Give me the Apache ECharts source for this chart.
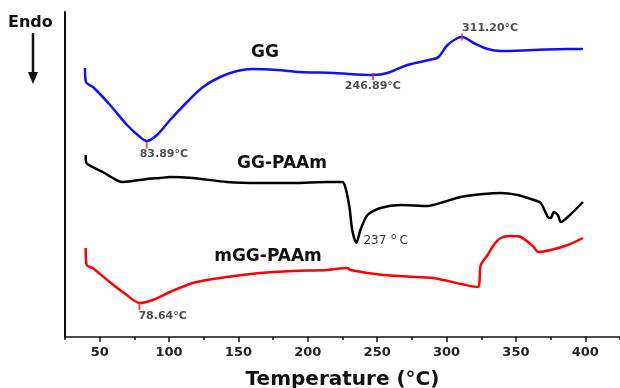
<!DOCTYPE html>
<html>
<head>
<meta charset="utf-8">
<title>DSC</title>
<script src="https://cdn.jsdelivr.net/npm/echarts@6/dist/echarts.min.js"></script>
<style>
  html, body { margin: 0; padding: 0; background: #fff; }
  #chart { width: 620px; height: 388px; }
</style>
</head>
<body>
<div id="chart"></div>
<script>
// GG curve (temperature in °C, heat flow in arbitrary units, endo down)
const ggTemp = [39.4, 40.1, 45.2, 57.5, 69.7, 79.1, 83.9, 91.3, 100.7, 113, 124.5, 136.8, 149, 160.6, 177.9, 194.5, 218.4, 246.9, 257.4, 271.8, 290.6, 294.2, 300.7, 308, 311.2, 319.5, 329.6, 339, 362.9, 387.4, 398.3];
const ggHeat = [269, 255, 250, 232, 212, 200, 196, 202, 217, 235, 250, 260, 266, 268, 267, 265, 264, 262, 264, 272, 278, 280, 292, 299, 300, 294, 288, 286, 287, 288, 288];

// GG-PAAm curve
const paamTemp = [39.9, 40.4, 44.9, 52.2, 59.4, 65.9, 73.8, 84, 93.4, 100.6, 117.2, 141.8, 165.6, 189.5, 214, 224.9, 227, 230, 232, 235, 237.9, 243, 252.3, 266.8, 286.3, 297.8, 310.1, 326.7, 339, 351.3, 358.5, 362.9, 367.9, 373, 375.1, 377.3, 380.2, 382.4, 387.4, 398.3];
const paamHeat = [182, 174, 170, 165, 159, 155, 156, 158, 159, 160, 159, 155, 154, 154, 155, 155, 150, 130, 107, 94, 107, 122, 129, 132, 131, 135, 140, 143, 144, 142, 139, 137, 134, 120, 119, 125, 122, 115, 120, 135];

// mGG-PAAm curve
const mggTemp = [39.9, 40.6, 44.9, 57.2, 69.5, 78.6, 88.3, 100.6, 117.2, 141.8, 165.6, 189.5, 214, 228.5, 230.6, 254.5, 279, 290.6, 322.4, 324.6, 329.6, 334, 339, 346.2, 353.5, 362.9, 365.8, 375.1, 387.4, 398.3];
const mggHeat = [89, 72, 69, 55, 42, 34, 37, 45, 54, 60, 64, 66, 67, 69, 67, 62, 60, 59, 50, 72, 82, 92, 99, 101, 100, 90, 85, 87, 92, 99];

// peak markers
const peakTemp = [83.89, 246.89, 311.20, 78.64];
const peakHeat = [192, 260.5, 300, 30.5];
const peakText = ['83.89°C', '246.89°C', '311.20°C', '78.64°C'];

const majorTicks = [50, 100, 150, 200, 250, 300, 350, 400];
const minorTicks = [25, 75, 125, 175, 225, 275, 325, 375, 425];

const pair = (xs, ys) => xs.map((x, i) => [x, ys[i]]);

const chart = echarts.init(document.getElementById('chart'));

const labelFont = { fontFamily: 'DejaVu Sans', fontWeight: 'bold', fontSize: 11, color: '#222' };
// label placement for each peak
const peakLabelPos = [
  { position: 'bottom', align: 'left', offset: [-7, 0], distance: 0 },
  { position: 'bottom', align: 'center', offset: [0, 0], distance: 1 },
  { position: 'top', align: 'left', offset: [0, 0], distance: 0 },
  { position: 'bottom', align: 'left', offset: [-1, 0], distance: 1 }
];

const option = {
  animation: false,
  grid: { left: 65, right: 0, top: 12, bottom: 51, outerBoundsMode: 'none' },
  xAxis: [
    {
      type: 'value', min: 25, max: 425,
      name: 'Temperature (°C)', nameLocation: 'middle', nameGap: 33,
      nameTextStyle: { fontFamily: 'DejaVu Sans', fontWeight: 'bold', fontSize: 20, color: '#111' },
      axisLine: { lineStyle: { color: '#111', width: 1.5 } },
      axisTick: { customValues: majorTicks, length: 5, lineStyle: { color: '#111', width: 1.5 } },
      axisLabel: { customValues: majorTicks, margin: 9, fontFamily: 'DejaVu Sans', fontWeight: 'bold', fontSize: 13, color: '#222' },
      splitLine: { show: false }
    },
    {
      type: 'value', min: 25, max: 425, position: 'bottom',
      axisLine: { show: false },
      axisTick: { customValues: minorTicks, length: 3, lineStyle: { color: '#111', width: 1.5 } },
      axisLabel: { show: false },
      splitLine: { show: false }
    }
  ],
  yAxis: {
    type: 'value', min: 0, max: 325,
    axisLine: { show: true, lineStyle: { color: '#111', width: 2 } },
    axisTick: { show: false },
    axisLabel: { show: false },
    splitLine: { show: false }
  },
  series: [
    {
      name: 'GG', type: 'line', data: pair(ggTemp, ggHeat), showSymbol: false,
      smooth: 0.35,
      lineStyle: { color: '#1010ff', width: 2.5 }
    },
    {
      name: 'GG-PAAm', type: 'line', data: pair(paamTemp, paamHeat), showSymbol: false,
      smooth: 0.25,
      lineStyle: { color: '#000', width: 2.5 },
      markPoint: {
        symbol: 'circle', symbolSize: 0,
        data: [{ coord: [235, 94] }],
        label: {
          show: true, position: 'right', distance: 7, offset: [0, -2],
          formatter: '{a|237 }{b|o}{a|C}',
          rich: {
            a: { fontFamily: 'DejaVu Sans', fontSize: 12, color: '#333' },
            b: { fontFamily: 'DejaVu Sans', fontSize: 9, color: '#333', padding: [0, 3, 9, 1] }
          }
        }
      }
    },
    {
      name: 'mGG-PAAm', type: 'line', data: pair(mggTemp, mggHeat), showSymbol: false,
      smooth: 0.25,
      lineStyle: { color: '#ff0000', width: 2.5 }
    },
    {
      name: 'peaks', type: 'scatter', symbol: 'rect', symbolSize: [2, 7],
      itemStyle: { color: '#ff2020' },
      data: peakTemp.map((t, i) => ({
        value: [t, peakHeat[i]],
        label: Object.assign({ show: true, formatter: peakText[i] }, labelFont, peakLabelPos[i])
      })),
      z: 5
    }
  ],
  graphic: [
    { type: 'text', left: 8, top: 15, style: { text: 'Endo', fontFamily: 'DejaVu Sans', fontWeight: 'bold', fontSize: 16, fill: '#111' } },
    { type: 'line', shape: { x1: 33, y1: 33, x2: 33, y2: 74 }, style: { stroke: '#111', lineWidth: 2.5 } },
    { type: 'polygon', shape: { points: [[28, 72], [38, 72], [33, 84]] }, style: { fill: '#111' } },
    { type: 'text', x: 265, y: 53, style: { text: 'GG', fontFamily: 'DejaVu Sans', fontWeight: 'bold', fontSize: 17, fill: '#111', align: 'center', verticalAlign: 'middle' } },
    { type: 'text', x: 282, y: 164, style: { text: 'GG-PAAm', fontFamily: 'DejaVu Sans', fontWeight: 'bold', fontSize: 17, fill: '#111', align: 'center', verticalAlign: 'middle' } },
    { type: 'text', x: 268, y: 257, style: { text: 'mGG-PAAm', fontFamily: 'DejaVu Sans', fontWeight: 'bold', fontSize: 17, fill: '#111', align: 'center', verticalAlign: 'middle' } }
  ]
};

chart.setOption(option);
</script>
</body>
</html>
